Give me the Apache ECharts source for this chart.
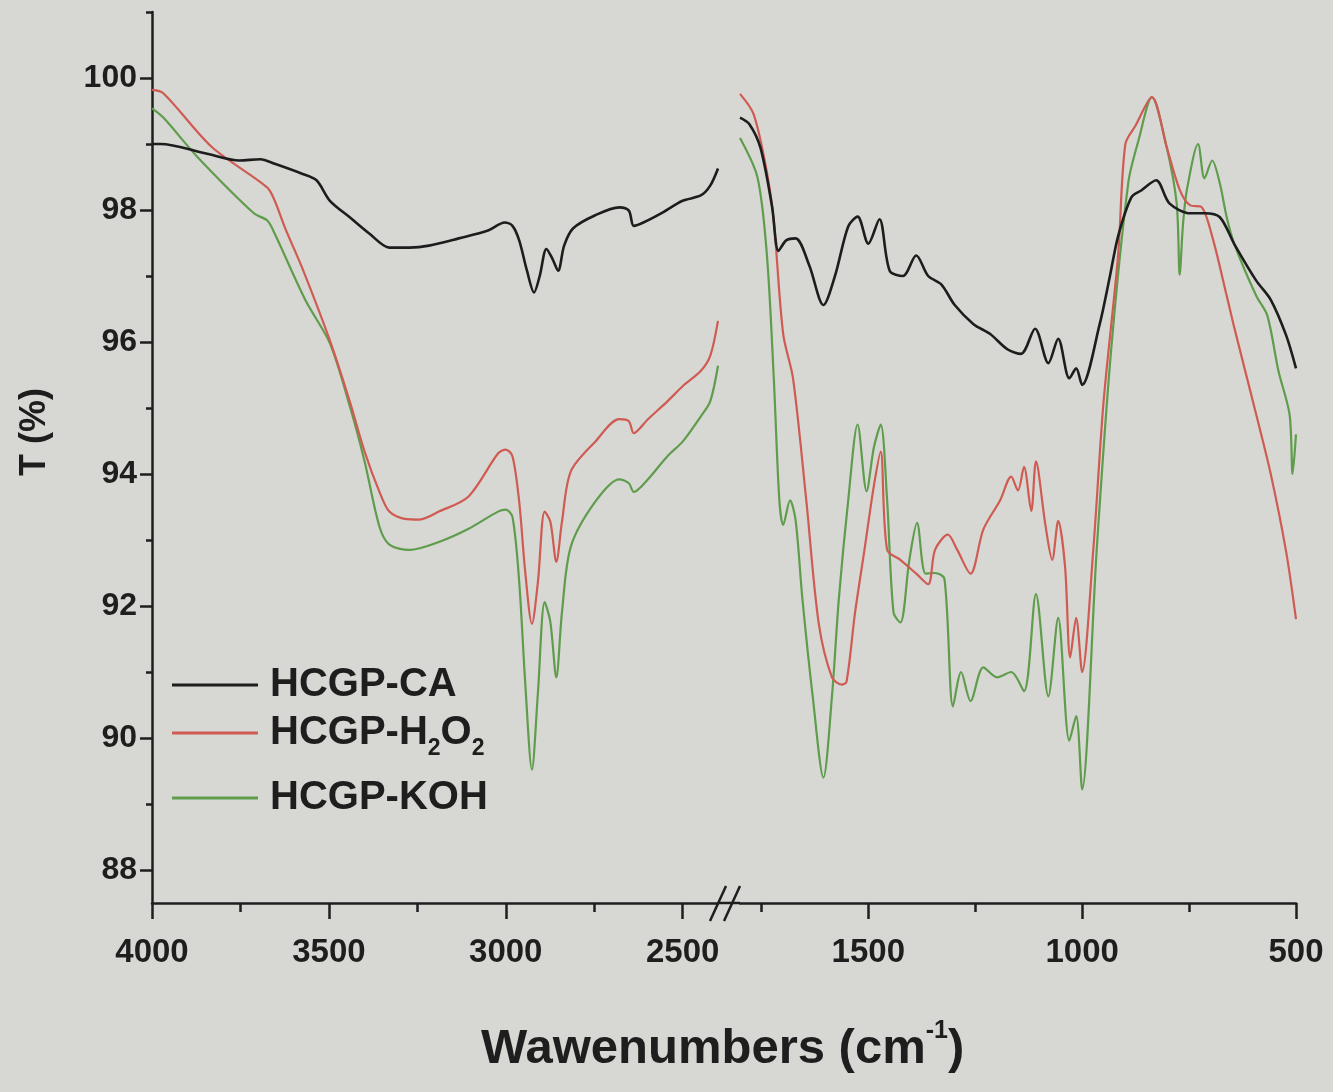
<!DOCTYPE html>
<html>
<head>
<meta charset="utf-8">
<script src="https://cdn.jsdelivr.net/npm/echarts@6/dist/echarts.min.js"></script>
<style>
html,body{margin:0;padding:0;background:#d7d8d4;}
#c{width:1333px;height:1092px;}
</style>
</head>
<body>
<div id="c"></div>
<script>
// ---------- data (wavenumber cm-1, transmittance %) ----------
const caLeft = [[4000,99.0],[3976,99.0],[3850,98.86],[3753,98.75],[3694,98.77],[3653,98.7],[3576,98.55],[3535,98.45],[3497,98.14],[3441,97.89],[3385,97.64],[3329,97.43],[3272,97.43],[3217,97.46],[3133,97.57],[3050,97.69],[3003,97.81],[2981,97.76],[2962,97.54],[2940,97.08],[2920,96.75],[2904,97.0],[2885,97.41],[2868,97.26],[2852,97.08],[2835,97.46],[2810,97.72],[2747,97.92],[2679,98.04],[2652,97.99],[2638,97.76],[2611,97.81],[2557,97.96],[2500,98.14],[2449,98.22],[2422,98.37],[2400,98.63]];
const h2o2Left = [[4000,99.82],[3968,99.77],[3830,98.95],[3674,98.34],[3653,98.14],[3624,97.73],[3576,97.13],[3497,96.02],[3441,95.1],[3399,94.34],[3357,93.73],[3329,93.43],[3286,93.32],[3244,93.31],[3189,93.43],[3105,93.66],[3022,94.31],[3000,94.37],[2981,94.27],[2962,93.58],[2945,92.52],[2926,91.73],[2909,92.37],[2890,93.43],[2874,93.28],[2857,92.67],[2841,93.28],[2816,94.04],[2747,94.49],[2679,94.83],[2652,94.8],[2638,94.62],[2598,94.83],[2543,95.1],[2500,95.33],[2449,95.56],[2422,95.79],[2400,96.32]];
const kohLeft = [[4000,99.54],[3968,99.4],[3871,98.8],[3712,97.95],[3674,97.84],[3653,97.64],[3565,96.62],[3497,95.98],[3441,95.03],[3399,94.19],[3357,93.2],[3329,92.93],[3272,92.85],[3189,92.97],[3105,93.17],[3022,93.43],[3000,93.46],[2981,93.35],[2962,92.37],[2945,90.84],[2926,89.52],[2909,90.69],[2890,92.06],[2874,91.76],[2857,90.92],[2841,91.91],[2816,92.9],[2747,93.58],[2679,93.92],[2652,93.86],[2638,93.73],[2598,93.92],[2543,94.27],[2500,94.49],[2449,94.87],[2422,95.1],[2400,95.64]];

const caRight = [[1800,99.4],[1778,99.3],[1752,98.94],[1725,98.05],[1710,97.38],[1692,97.54],[1670,97.57],[1638,97.16],[1605,96.56],[1578,97.0],[1547,97.75],[1525,97.9],[1500,97.49],[1474,97.86],[1450,97.08],[1419,97.0],[1388,97.31],[1360,97.0],[1329,96.87],[1298,96.56],[1254,96.27],[1215,96.12],[1175,95.89],[1143,95.82],[1110,96.2],[1079,95.68],[1056,96.05],[1030,95.45],[1014,95.6],[1000,95.35],[959,96.27],[935,97.0],[916,97.6],[885,98.19],[861,98.3],[827,98.45],[796,98.1],[747,97.95],[714,97.95],[678,97.89],[644,97.48],[593,96.93],[559,96.64],[523,96.1],[500,95.6]];
const h2o2Right = [[1800,99.76],[1768,99.45],[1737,98.57],[1721,97.83],[1699,96.12],[1676,95.45],[1645,93.6],[1616,91.74],[1585,90.92],[1562,90.81],[1551,90.85],[1531,91.9],[1509,92.85],[1487,93.82],[1471,94.34],[1456,92.85],[1425,92.7],[1388,92.49],[1360,92.33],[1344,92.85],[1314,93.08],[1292,92.85],[1261,92.49],[1231,93.16],[1192,93.6],[1166,93.96],[1150,93.75],[1136,94.11],[1119,93.44],[1108,94.19],[1086,93.23],[1070,92.7],[1056,93.29],[1040,92.6],[1028,91.22],[1014,91.82],[1000,91.0],[974,92.85],[950,95.09],[916,97.31],[899,99.0],[875,99.28],[837,99.71],[803,98.97],[772,98.31],[747,98.07],[722,98.05],[696,97.6],[662,96.7],[644,96.21],[593,94.9],[559,94.0],[523,92.82],[500,91.8]];
const kohRight = [[1800,99.09],[1759,98.49],[1737,97.31],[1721,95.45],[1708,93.6],[1699,93.23],[1683,93.6],[1670,93.3],[1654,92.1],[1630,90.63],[1605,89.4],[1585,90.63],[1569,92.1],[1547,93.6],[1525,94.75],[1504,93.74],[1487,94.4],[1471,94.75],[1456,93.6],[1441,91.9],[1425,91.75],[1404,92.7],[1386,93.26],[1366,92.49],[1344,92.5],[1322,92.41],[1302,90.48],[1283,91.0],[1261,90.56],[1231,91.07],[1199,90.92],[1166,91.0],[1136,90.71],[1108,92.18],[1079,90.63],[1056,91.82],[1030,89.96],[1014,90.33],[1000,89.22],[966,92.85],[933,95.82],[892,98.42],[868,99.06],[837,99.71],[803,98.97],[779,98.1],[772,97.02],[764,97.8],[755,98.31],[729,99.0],[714,98.48],[696,98.75],[678,98.4],[662,97.89],[644,97.48],[593,96.7],[567,96.4],[541,95.56],[515,94.9],[508,94.0],[500,94.6]];

const yMajor = [88, 90, 92, 94, 96, 98, 100];
const yMinor = [89, 91, 93, 95, 97, 99, 101];
const xLeftMajor = [4000, 3500, 3000, 2500];
const xLeftMinor = [3750, 3250, 2750];
const xRightMajor = [1500, 1000, 500];
const xRightMinor = [1750, 1250, 750];

const names = ['HCGP-CA', 'HCGP-H2O2', 'HCGP-KOH'];
// ---------- styling ----------
const FONT = '"Liberation Sans", Arial, Helvetica, sans-serif';
const INK = '#1e1e1e';
const C_CA = '#1d1d1d', C_H = '#cf5b52', C_K = '#5f9c4c';
const AX = {color: INK, width: 2.5};
const plain = function (v) { return String(v); };

function xMajor(grid, min, max, vals) {
  return {gridIndex: grid, type: 'value', min: min, max: max, inverse: true, position: 'bottom',
    axisLine: {show: true, lineStyle: AX},
    axisTick: {show: true, customValues: vals, length: 16, inside: false, lineStyle: AX},
    axisLabel: {show: true, customValues: vals, formatter: plain, fontSize: 33, fontWeight: 'bold', color: INK, fontFamily: FONT, margin: 33},
    splitLine: {show: false}};
}
function xMinor(grid, min, max, vals) {
  return {gridIndex: grid, type: 'value', min: min, max: max, inverse: true, position: 'bottom',
    axisLine: {show: false},
    axisTick: {show: true, customValues: vals, length: 9, lineStyle: AX},
    axisLabel: {show: false}, splitLine: {show: false}};
}
const legendBase = {left: 172, orient: 'vertical', icon: 'rect', itemWidth: 86, itemHeight: 3, padding: 0,
  textStyle: {fontSize: 40, fontWeight: 'bold', color: INK, fontFamily: FONT, padding: [0, 0, 0, 7]}};

const option = {
  backgroundColor: '#d7d8d4',
  animation: false,
  grid: [
    {left: 152, top: 12, width: 566, height: 891},
    {left: 740, top: 12, width: 556, height: 891}
  ],
  xAxis: [
    xMajor(0, 2400, 4000, xLeftMajor),
    xMinor(0, 2400, 4000, xLeftMinor),
    xMajor(1, 500, 1800, xRightMajor),
    xMinor(1, 500, 1800, xRightMinor)
  ],
  yAxis: [
    {gridIndex: 0, type: 'value', min: 87.5, max: 101, position: 'left',
      axisLine: {show: true, lineStyle: AX},
      axisTick: {show: true, customValues: yMajor, length: 12, lineStyle: AX},
      axisLabel: {show: true, customValues: yMajor, formatter: plain, fontSize: 32, fontWeight: 'bold', color: INK, fontFamily: FONT, margin: 15},
      splitLine: {show: false}},
    {gridIndex: 0, type: 'value', min: 87.5, max: 101, position: 'left',
      axisLine: {show: false},
      axisTick: {show: true, customValues: yMinor, length: 6, lineStyle: AX},
      axisLabel: {show: false}, splitLine: {show: false}},
    {gridIndex: 1, type: 'value', min: 87.5, max: 101, show: false}
  ],
  legend: [
    Object.assign({}, legendBase, {data: [names[0]], top: 665}),
    Object.assign({}, legendBase, {data: [names[1]], top: 713,
      formatter: function () { return '{n|HCGP-H}{s|2}{n|O}{s|2}'; },
      textStyle: {fontSize: 40, fontWeight: 'bold', color: INK, fontFamily: FONT, padding: [0, 0, 0, 7],
        rich: {
          n: {fontSize: 40, fontWeight: 'bold', color: INK, fontFamily: FONT, lineHeight: 54},
          s: {fontSize: 23, fontWeight: 'bold', color: INK, fontFamily: FONT, lineHeight: 23, verticalAlign: 'bottom'}
        }}}),
    Object.assign({}, legendBase, {data: [names[2]], top: 778})
  ],
  title: {
    text: '{a|Wawenumbers (cm}{s|-1}{a|)}',
    left: 476, top: 1014,
    textStyle: {rich: {
      a: {fontSize: 49, fontWeight: 'bold', color: INK, fontFamily: FONT, lineHeight: 60},
      s: {fontSize: 25, fontWeight: 'bold', color: INK, fontFamily: FONT, lineHeight: 25, verticalAlign: 'top'}
    }}
  },
  graphic: [
    {type: 'text', x: 35, y: 432, rotation: Math.PI / 2,
      style: {text: 'T (%)', fill: INK, font: 'bold 36px ' + FONT, align: 'center', verticalAlign: 'middle'}},
    {type: 'line', shape: {x1: 718, y1: 903, x2: 740, y2: 903}, style: {stroke: INK, lineWidth: 2.5}},
    {type: 'line', shape: {x1: 710, y1: 921, x2: 726, y2: 886}, style: {stroke: INK, lineWidth: 2.5}},
    {type: 'line', shape: {x1: 724, y1: 921, x2: 740, y2: 886}, style: {stroke: INK, lineWidth: 2.5}}
  ],
  series: [
    {type: 'line', name: names[2], xAxisIndex: 0, yAxisIndex: 0, data: kohLeft, symbol: 'none', smooth: 0.3,
      lineStyle: {color: C_K, width: 2.2}, itemStyle: {color: C_K}},
    {type: 'line', name: names[2], xAxisIndex: 2, yAxisIndex: 2, data: kohRight, symbol: 'none', smooth: 0.3,
      lineStyle: {color: C_K, width: 2.2}, itemStyle: {color: C_K}},
    {type: 'line', name: names[1], xAxisIndex: 0, yAxisIndex: 0, data: h2o2Left, symbol: 'none', smooth: 0.3,
      lineStyle: {color: C_H, width: 2.2}, itemStyle: {color: C_H}},
    {type: 'line', name: names[1], xAxisIndex: 2, yAxisIndex: 2, data: h2o2Right, symbol: 'none', smooth: 0.3,
      lineStyle: {color: C_H, width: 2.2}, itemStyle: {color: C_H}},
    {type: 'line', name: names[0], xAxisIndex: 0, yAxisIndex: 0, data: caLeft, symbol: 'none', smooth: 0.3,
      lineStyle: {color: C_CA, width: 2.6}, itemStyle: {color: C_CA}},
    {type: 'line', name: names[0], xAxisIndex: 2, yAxisIndex: 2, data: caRight, symbol: 'none', smooth: 0.3,
      lineStyle: {color: C_CA, width: 2.6}, itemStyle: {color: C_CA}}
  ]
};
const chart = echarts.init(document.getElementById('c'), null, {renderer: 'canvas'});
chart.setOption(option);
</script>
</body>
</html>
